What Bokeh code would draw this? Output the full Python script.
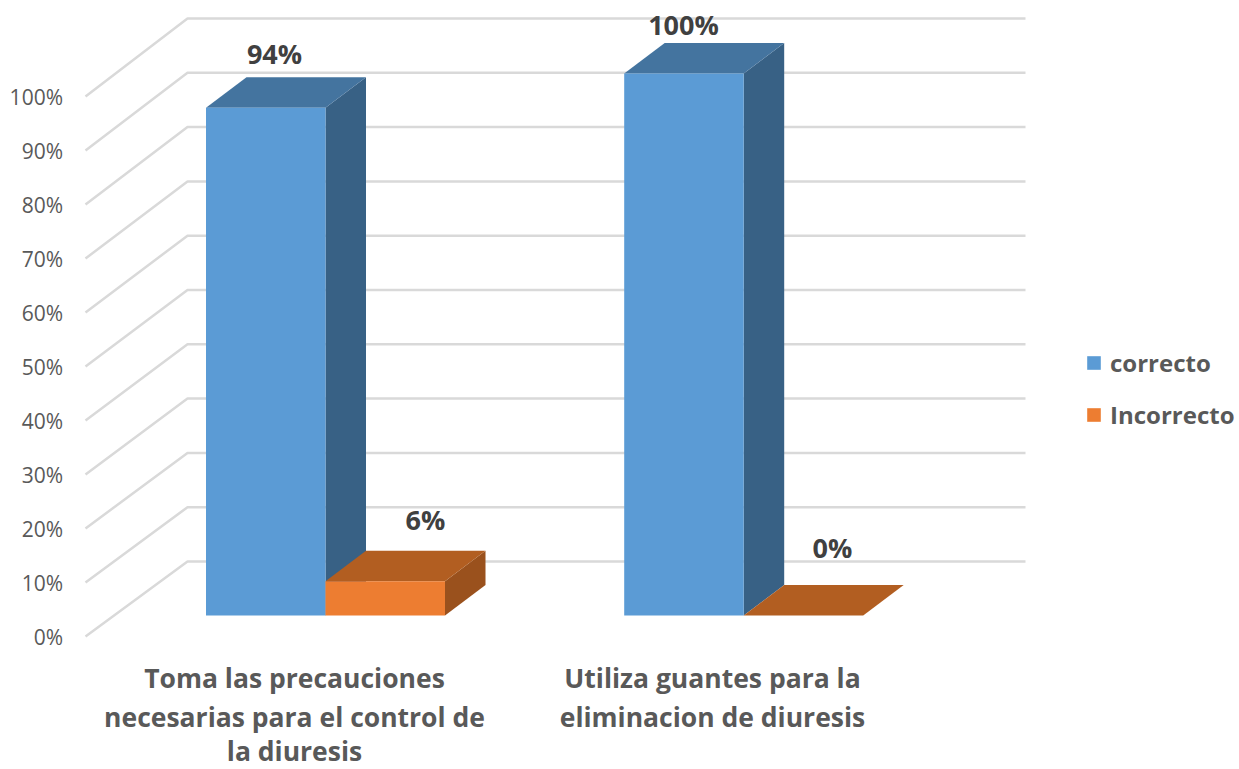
from bokeh.plotting import figure
from bokeh.models import Range1d, Legend, LegendItem
from bokeh.embed import file_html
from bokeh.resources import INLINE
from bokeh.core.properties import value

# ---- chart values ----
categories = [["Toma las precauciones", "necesarias para el control de", "la diuresis"],
              ["Utiliza guantes para la", "eliminacion de diuresis"]]
correcto = [93.7, 100]
incorrecto = [6.3, 0]
correcto_labels = ["94%", "100%"]
incorrecto_labels = ["6%", "0%"]
axis_values = [0, 10, 20, 30, 40, 50, 60, 70, 80, 90, 100]
axis_labels = ["0%", "10%", "20%", "30%", "40%", "50%", "60%", "70%", "80%", "90%", "100%"]
series_names = ["correcto", "Incorrecto"]

# ---- layout (page pixels) ----
W, H = 1239, 769
BASE = 615.0          # baseline of the bar fronts
PX = 5.42             # pixels per percentage point
def yd(py):
    return (BASE - py) / PX

DX, DY = 40.5, 30.5 / PX     # depth of the 3-D bars
WALL_L, WALL_X, WALL_R = 85.0, 187.0, 1025.0
FLOOR_LEFT = yd(636.0)
FLOOR_BACK = yd(561.0)
BAR_STARTS = [205.5, 623.7]
BAR_W = 119.5

BLUE = ("#5B9BD5", "#44749F", "#386185")
ORANGE = ("#ED7D31", "#B25E21", "#9A511D")
GRID = "#D9D9D9"
FONT = "Open Sans"

p = figure(width=W, height=H, output_backend="svg", toolbar_location=None,
           x_range=Range1d(0, W), y_range=Range1d(yd(H), yd(0)),
           min_border=0, outline_line_color=None)
p.axis.visible = False
p.grid.visible = False
p.background_fill_color = "white"

# back wall and left side wall grid lines
xs, ys = [], []
for v in axis_values:
    xs.append([WALL_L, WALL_X, WALL_R])
    ys.append([FLOOR_LEFT + v * 540 / 100 / PX, FLOOR_BACK + v * 543 / 100 / PX, FLOOR_BACK + v * 543 / 100 / PX])
p.multi_line(xs, ys, line_color=GRID, line_width=2.5)

# y tick labels
p.text([62.5] * len(axis_values), [FLOOR_LEFT + v * 540 / 100 / PX for v in axis_values], text=axis_labels,
       text_align="right", text_baseline="middle", text_color="#595959",
       text_font=value(FONT), text_font_size="21px")

def bar(x0, v, colors):
    x1 = x0 + BAR_W
    front = ([x0, x1, x1, x0], [0, 0, v, v])
    top = ([x0, x1, x1 + DX, x0 + DX], [v, v, v + DY, v + DY])
    side = ([x1, x1 + DX, x1 + DX, x1], [0, DY, v + DY, v])
    p.patch(*side, fill_color=colors[2], line_color=None)
    p.patch(*top, fill_color=colors[1], line_color=None)
    return p.patch(*front, fill_color=colors[0], line_color=None)

fronts_blue, fronts_orange = [], []
for i, x0 in enumerate(BAR_STARTS):
    fronts_blue.append(bar(x0, correcto[i], BLUE))
    fronts_orange.append(bar(x0 + BAR_W, incorrecto[i], ORANGE))

legend = Legend(items=[LegendItem(label=series_names[0], renderers=[fronts_blue[0]]),
                       LegendItem(label=series_names[1], renderers=[fronts_orange[0]])],
                location=(1085, 769 - 432), orientation="vertical", padding=0, margin=0,
                spacing=17, glyph_width=17, glyph_height=17, label_standoff=8,
                border_line_color=None, background_fill_alpha=0,
                label_text_font=FONT, label_text_font_size="24px",
                label_text_font_style="bold", label_text_color="#595959",
                label_height=35)
p.add_layout(legend, "center")

# data labels
lab_x = [274, 683, 425, 832]
lab_y = [53, 24, 519, 547]
p.text(lab_x, [yd(y) for y in lab_y], text=correcto_labels + incorrecto_labels,
       text_align="center", text_baseline="middle", text_color="#404040",
       text_font=value(FONT), text_font_size="27px", text_font_style="bold")

# category labels
cat_x = [294, 712]
cat_y = [677, 716, 750]
tx, ty, tt = [], [], []
for i, lines in enumerate(categories):
    for j, line in enumerate(lines):
        tx.append(cat_x[i]); ty.append(yd(cat_y[j])); tt.append(line)
p.text(tx, ty, text=tt, text_align="center", text_baseline="middle", text_color="#595959",
       text_font=value(FONT), text_font_size="26.5px", text_font_style="bold")

open("out.html", "w").write(file_html(p, INLINE))
